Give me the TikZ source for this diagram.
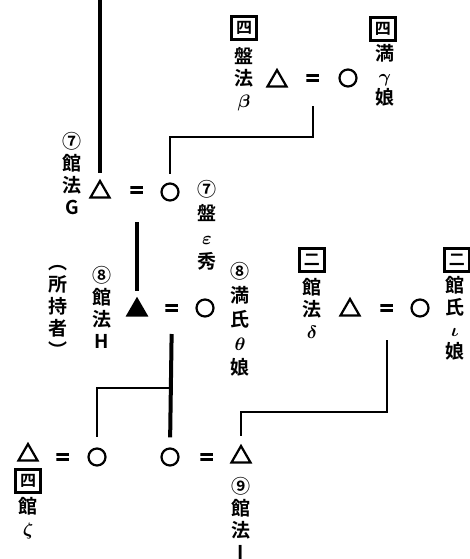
\documentclass[tikz,border=0pt]{standalone}
\usepackage{fontspec}
\usepackage{bm}
\setmainfont{Noto Sans CJK JP}[BoldFont={* Bold}]
\usetikzlibrary{shapes.geometric}

\tikzset{
    male/.style={regular polygon, regular polygon sides=3, draw, line width=1.1pt, inner sep=0pt, minimum size=11pt},
    heir/.style={male, fill=black},
    female/.style={circle, draw, line width=1.1pt, inner sep=0pt, minimum size=8.5pt},
    wed/.style={rectangle, inner sep=0pt, minimum width=6.5pt, minimum height=3.6pt,
        path picture={
            \fill (path picture bounding box.north west) rectangle ([yshift=-1.4pt]path picture bounding box.north east);
            \fill (path picture bounding box.south west) rectangle ([yshift=1.4pt]path picture bounding box.south east);
        }},
    vtext/.style={align=center, inner sep=0pt, font=\bfseries\fontsize{9.5}{11}\selectfont},
    numbox/.style={draw, line width=1.3pt, inner sep=0pt, minimum width=12.5pt, minimum height=11.5pt, font=\bfseries\fontsize{8}{8}\selectfont},
    heavy/.style={line width=2pt},
    medium/.style={line width=1.2pt},
    light/.style={line width=0.8pt}
}

\begin{document}
\begin{tikzpicture}[x=0.5pt, y=-0.5pt]
    \useasboundingbox (0,0) rectangle (470,559);

    % beta = gamma
    \node[numbox] (boxBeta) at (244,28) {四};
    \node[vtext] (txtBeta) at (244,79) {盤\\法\\$\bm{\beta}$};
    \node[male] (mBeta) at (277,81) {};
    \node[wed] (wBeta) at (313,78) {};
    \node[female] (fGamma) at (348,78) {};
    \node[numbox] (boxGamma) at (383,29) {四};
    \node[vtext] (txtGamma) at (385,75) {満\\$\bm{\gamma}$\\娘};

    % G = epsilon
    \coordinate (lineTop) at (100,0);
    \node[male] (mG) at (100,192) {};
    \node[wed] (wG) at (137,190) {};
    \node[female] (fEps) at (170,192) {};
    \node[vtext] (txtG) at (72,174) {⑦\\館\\法\\G};
    \node[vtext, font=\bfseries\fontsize{9.5}{12}\selectfont] (txtEps) at (207,225) {⑦\\盤\\$\bm{\varepsilon}$\\秀};

    % H = theta
    \node[heir] (mH) at (137,310) {};
    \node[wed] (wH) at (172,308) {};
    \node[female] (fTheta) at (205,308) {};
    \node[vtext] (txtH) at (102,307) {⑧\\館\\法\\H};
    \node[vtext] (txtOwner) at (58,311) {︵\\所\\持\\者\\︶};
    \node[vtext, font=\bfseries\fontsize{9.5}{12}\selectfont] (txtTheta) at (240,319) {⑧\\満\\氏\\$\bm{\theta}$\\娘};

    % delta = iota
    \node[numbox] (boxDelta) at (312,260) {二};
    \node[vtext] (txtDelta) at (312,308) {館\\法\\$\bm{\delta}$};
    \node[male] (mDelta) at (350,310) {};
    \node[wed] (wDelta) at (387,308) {};
    \node[female] (fIota) at (420,308) {};
    \node[numbox] (boxIota) at (457,260) {二};
    \node[vtext] (txtIota) at (455,318) {館\\氏\\$\bm{\iota}$\\娘};

    % children
    \node[male] (mZeta) at (28,455) {};
    \node[wed] (wZeta) at (63,457) {};
    \node[female] (fLeft) at (97,457) {};
    \node[female] (fRight) at (170,457) {};
    \node[wed] (wI) at (207,457) {};
    \node[male] (mI) at (241,457) {};
    \node[numbox] (boxZeta) at (28,481) {四};
    \node[vtext] (txtZeta) at (28,518) {館\\$\bm{\zeta}$};
    \node[vtext] (txtI) at (241,518) {⑨\\館\\法\\I};

    % lines of descent
    \draw[heavy, shorten >=3pt] (lineTop) -- (mG.north);
    \coordinate (dropBeta) at (313,106);
    \draw[medium, shorten >=4pt] (dropBeta) -- ++(0,31) -| (fEps.north);
    \draw[heavy, shorten <=14pt, shorten >=3pt] (wG) -- (mH.north);
    \draw[heavy, shorten <=11pt, shorten >=5pt] (wH) -- (fRight.north);
    \coordinate (fork) at (170,388);
    \draw[medium, shorten >=5pt] (fork) -| (fLeft.north);
    \coordinate (dropDelta) at (387,340);
    \draw[light, shorten >=4pt] (dropDelta) -- ++(0,72) -| (mI.north);
\end{tikzpicture}
\end{document}
